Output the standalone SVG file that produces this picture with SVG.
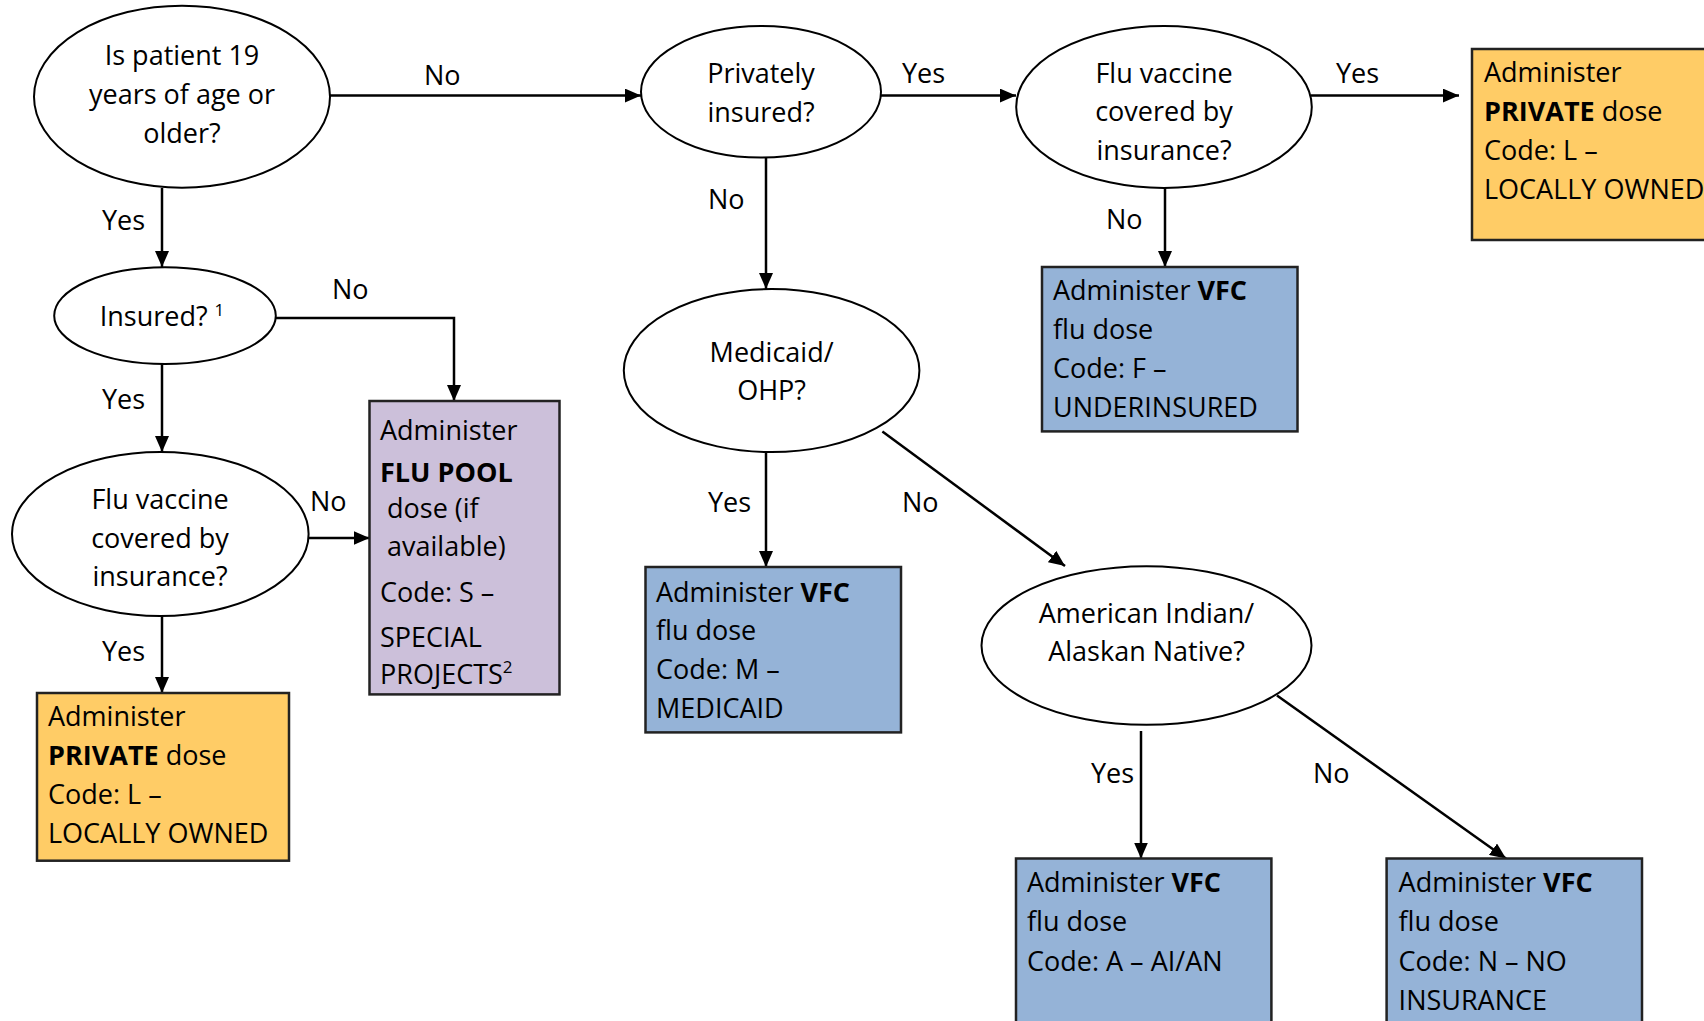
<svg xmlns="http://www.w3.org/2000/svg" width="1704" height="1021" viewBox="0 0 1704 1021">
<defs>
<marker id="arr" markerUnits="userSpaceOnUse" markerWidth="16" markerHeight="14" refX="16" refY="7" orient="auto">
<path d="M0,0 L16,7 L0,14 Z" fill="#000"/>
</marker>
<style>
text{font-family:"Open Sans","Liberation Sans",sans-serif;font-size:27px;fill:#000}
.c{text-anchor:middle}
.b{font-weight:bold}
.el{fill:#fff;stroke:#000;stroke-width:2}
.or{fill:#FFCC66;stroke:#222;stroke-width:2.5}
.bl{fill:#95B3D7;stroke:#222;stroke-width:2.5}
.pu{fill:#CCC0DA;stroke:#222;stroke-width:2.5}
.ln{fill:none;stroke:#000;stroke-width:2.5;marker-end:url(#arr)}
</style>
</defs>
<rect width="1704" height="1021" fill="#fff"/>
<g id="connectors">
<path class="ln" d="M330,95.6 H641"/>
<path class="ln" d="M881,95.6 H1016"/>
<path class="ln" d="M1311,95.6 H1459"/>
<path class="ln" d="M162,188 V267"/>
<path class="ln" d="M276,318 H454 V401"/>
<path class="ln" d="M162,364 V452"/>
<path class="ln" d="M308.6,538 H369.5"/>
<path class="ln" d="M162,616 V693"/>
<path class="ln" d="M766,157.6 V289"/>
<path class="ln" d="M1165,188 V267"/>
<path class="ln" d="M766,452 V567"/>
<path class="ln" d="M882.4,431.4 L1065,566"/>
<path class="ln" d="M1141,731 V858.5"/>
<path class="ln" d="M1277,695.5 L1506,858.5"/>
<text x="424" y="85">No</text>
<text x="902" y="83">Yes</text>
<text x="1336" y="83">Yes</text>
<text x="102" y="230">Yes</text>
<text x="332" y="299">No</text>
<text x="102" y="409">Yes</text>
<text x="310" y="511">No</text>
<text x="102" y="661">Yes</text>
<text x="708" y="209">No</text>
<text x="1106" y="229">No</text>
<text x="708" y="512">Yes</text>
<text x="902" y="512">No</text>
<text x="1091" y="783">Yes</text>
<text x="1313" y="783">No</text>
</g>
<g id="q-age">
<ellipse class="el" cx="182" cy="96.7" rx="148" ry="91"/>
<text class="c" x="182" y="65">Is patient 19</text>
<text class="c" x="182" y="104">years of age or</text>
<text class="c" x="182" y="143">older?</text>
</g>
<g id="q-private">
<ellipse class="el" cx="761" cy="91.8" rx="120" ry="65.7"/>
<text class="c" x="761" y="83">Privately</text>
<text class="c" x="761" y="122">insured?</text>
</g>
<g id="q-covered-top">
<ellipse class="el" cx="1164" cy="107" rx="147.8" ry="81"/>
<text class="c" x="1164" y="83">Flu vaccine</text>
<text class="c" x="1164" y="121">covered by</text>
<text class="c" x="1164" y="160">insurance?</text>
</g>
<g id="box-private-top">
<rect class="or" x="1472" y="49" width="240" height="191"/>
<text x="1484" y="82">Administer</text>
<text x="1484" y="121"><tspan class="b">PRIVATE</tspan> dose</text>
<text x="1484" y="160">Code: L –</text>
<text x="1484" y="199">LOCALLY OWNED</text>
</g>
<g id="q-insured">
<ellipse class="el" cx="165" cy="315.7" rx="110.8" ry="48.4"/>
<text class="c" x="162" y="326">Insured? <tspan font-size="17" dy="-10">1</tspan></text>
</g>
<g id="q-covered-left">
<ellipse class="el" cx="160.3" cy="534" rx="148.3" ry="82"/>
<text class="c" x="160" y="509">Flu vaccine</text>
<text class="c" x="160" y="548">covered by</text>
<text class="c" x="160" y="586">insurance?</text>
</g>
<g id="box-flupool">
<rect class="pu" x="369.5" y="401" width="190" height="293.4"/>
<text x="380" y="440">Administer</text>
<text x="380" y="482" class="b">FLU POOL</text>
<text x="380" y="518" xml:space="preserve"> dose (if</text>
<text x="380" y="556" xml:space="preserve"> available)</text>
<text x="380" y="602">Code: S –</text>
<text x="380" y="647">SPECIAL</text>
<text x="380" y="684">PROJECTS<tspan font-size="17" dy="-11">2</tspan></text>
</g>
<g id="box-private-left">
<rect class="or" x="37" y="693" width="252" height="167.7"/>
<text x="48" y="726">Administer</text>
<text x="48" y="765"><tspan class="b">PRIVATE</tspan> dose</text>
<text x="48" y="804">Code: L –</text>
<text x="48" y="843">LOCALLY OWNED</text>
</g>
<g id="box-underinsured">
<rect class="bl" x="1042" y="267" width="255.5" height="164.4"/>
<text x="1053" y="300">Administer <tspan class="b">VFC</tspan></text>
<text x="1053" y="339">flu dose</text>
<text x="1053" y="378">Code: F –</text>
<text x="1053" y="417">UNDERINSURED</text>
</g>
<g id="q-medicaid">
<ellipse class="el" cx="771.6" cy="370.6" rx="147.8" ry="81.5"/>
<text class="c" x="771.6" y="362">Medicaid/</text>
<text class="c" x="771.6" y="400">OHP?</text>
</g>
<g id="box-medicaid">
<rect class="bl" x="645.5" y="567" width="255.5" height="165.4"/>
<text x="656" y="602">Administer <tspan class="b">VFC</tspan></text>
<text x="656" y="640">flu dose</text>
<text x="656" y="679">Code: M –</text>
<text x="656" y="718">MEDICAID</text>
</g>
<g id="q-aian">
<ellipse class="el" cx="1146.5" cy="645.5" rx="165" ry="79.3"/>
<text class="c" x="1146.5" y="623">American Indian/</text>
<text class="c" x="1146.5" y="661">Alaskan Native?</text>
</g>
<g id="box-aian">
<rect class="bl" x="1016" y="858.5" width="255.4" height="180"/>
<text x="1027" y="892">Administer <tspan class="b">VFC</tspan></text>
<text x="1027" y="931">flu dose</text>
<text x="1027" y="971">Code: A – AI/AN</text>
</g>
<g id="box-noins">
<rect class="bl" x="1386.6" y="858.5" width="255.4" height="180"/>
<text x="1398.6" y="892">Administer <tspan class="b">VFC</tspan></text>
<text x="1398.6" y="931">flu dose</text>
<text x="1398.6" y="971">Code: N – NO</text>
<text x="1398.6" y="1010">INSURANCE</text>
</g>
</svg>
